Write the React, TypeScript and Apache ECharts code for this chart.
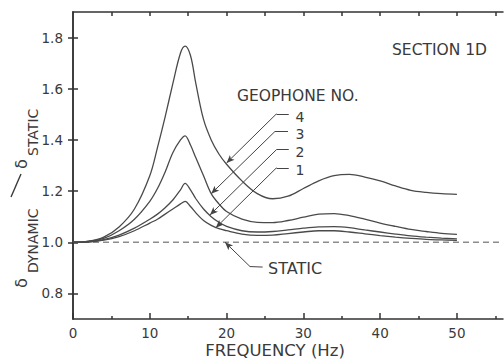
import React, { useEffect, useRef } from "react";
import * as echarts from "echarts";

// Frequency (Hz) sample points
const freq = [0, 2, 4, 6, 8, 10, 11, 12, 13, 14, 14.6, 15.3, 16, 17, 18, 19, 20, 22, 24, 26, 28, 30, 32, 34, 36, 38, 40, 42, 44, 46, 48, 50];

// delta_dynamic / delta_static for each geophone
const geo4 = [1.0, 1.004, 1.02, 1.06, 1.13, 1.26, 1.37, 1.49, 1.62, 1.74, 1.767, 1.73, 1.62, 1.48, 1.40, 1.345, 1.305, 1.24, 1.19, 1.17, 1.18, 1.21, 1.24, 1.26, 1.265, 1.255, 1.24, 1.22, 1.203, 1.195, 1.19, 1.187];
const geo3 = [1.0, 1.003, 1.015, 1.045, 1.09, 1.16, 1.21, 1.275, 1.35, 1.40, 1.416, 1.38, 1.33, 1.26, 1.19, 1.15, 1.12, 1.09, 1.078, 1.077, 1.085, 1.098, 1.11, 1.112, 1.104, 1.09, 1.075, 1.062, 1.05, 1.042, 1.035, 1.031];
const geo2 = [1.0, 1.002, 1.01, 1.028, 1.055, 1.09, 1.11, 1.135, 1.165, 1.205, 1.23, 1.205, 1.17, 1.13, 1.10, 1.078, 1.062, 1.045, 1.04, 1.042, 1.048, 1.055, 1.06, 1.061, 1.057, 1.048, 1.04, 1.032, 1.025, 1.02, 1.016, 1.013];
const geo1 = [1.0, 1.001, 1.008, 1.022, 1.045, 1.075, 1.09, 1.11, 1.13, 1.15, 1.16, 1.14, 1.115, 1.085, 1.066, 1.053, 1.045, 1.032, 1.027, 1.028, 1.034, 1.04, 1.045, 1.045, 1.04, 1.033, 1.026, 1.02, 1.015, 1.011, 1.009, 1.007];

const staticLevel = 1.0;
const xMajorTicks = [0, 10, 20, 30, 40, 50];
const xMinorTicks = [5, 15, 25, 35, 45, 55];
const xTopTicks = [5, 10, 15, 20, 25, 30, 35, 40, 45, 50, 55];
const yTicks = [0.8, 1.0, 1.2, 1.4, 1.6, 1.8];

// Leader lines (data coordinates): [tip, corner, end]
const leader4 = [[20.0, 1.31], [26.5, 1.502], [28.1, 1.502]];
const leader3 = [[18.0, 1.19], [26.3, 1.433], [28.0, 1.433]];
const leader2 = [[17.84, 1.107], [26.5, 1.362], [28.1, 1.362]];
const leader1 = [[18.6, 1.057], [26.5, 1.291], [28.1, 1.291]];
const leaderStatic = [[19.8, 1.0], [23.05, 0.905], [24.7, 0.903]];

const FONT = '"DejaVu Sans", "Liberation Sans", sans-serif';
const INK = "#3a3a3a";
const CURVE = "#4a4a4a";

function leaderLines(l: number[][]) {
  return [
    [
      { coord: l[1], symbol: "none" },
      { coord: l[0], symbol: "arrow", symbolSize: [5, 8] },
    ],
    [
      { coord: l[1], symbol: "none" },
      { coord: l[2], symbol: "none" },
    ],
  ];
}

export default function App() {
  const ref = useRef<HTMLDivElement>(null);
  useEffect(() => {
    if (!ref.current) return;
    const chart = echarts.init(ref.current, undefined, { renderer: "svg" });
    const curve = (vals: number[], name: string) => ({
      type: "line",
      name,
      data: freq.map((f, i) => [f, vals[i]]),
      smooth: 0.35,
      showSymbol: false,
      symbol: "none",
      silent: true,
      lineStyle: { color: CURVE, width: 1.3 },
      z: 3,
    });
    const axisLineStyle = { color: "#333", width: 1.5 };
    const txt = (text: string, x: number, y: number, size: number, align = "left") => ({
      type: "text", x, y,
      style: { text, fontSize: size, fontFamily: FONT, fill: INK, align, verticalAlign: "middle" },
    });
    chart.setOption({
      animation: false,
      backgroundColor: "#fff",
      grid: { left: 73, right: 1, top: 12, bottom: 45, containLabel: false },
      xAxis: [
        {
          type: "value", min: 0, max: 56, position: "bottom",
          axisLine: { show: true, lineStyle: axisLineStyle },
          axisTick: { show: true, inside: true, length: 6, customValues: xMajorTicks, lineStyle: { color: "#333", width: 1.5 } },
          axisLabel: { customValues: xMajorTicks, fontSize: 13.5, fontFamily: FONT, color: INK, margin: 7 },
          splitLine: { show: false },
        },
        {
          type: "value", min: 0, max: 56, position: "bottom",
          axisLine: { show: false },
          axisTick: { show: true, inside: true, length: 3, customValues: xMinorTicks, lineStyle: { color: "#333", width: 1.5 } },
          axisLabel: { show: false },
          splitLine: { show: false },
        },
        {
          type: "value", min: 0, max: 56, position: "top",
          axisLine: { show: true, lineStyle: axisLineStyle },
          axisTick: { show: true, inside: true, length: 4, customValues: xTopTicks, lineStyle: { color: "#333", width: 1.5 } },
          axisLabel: { show: false },
          splitLine: { show: false },
        },
      ],
      yAxis: [
        {
          type: "value", min: 0.7, max: 1.9, position: "left",
          axisLine: { show: true, lineStyle: axisLineStyle },
          axisTick: { show: true, inside: true, length: 5, customValues: yTicks, lineStyle: { color: "#333", width: 1.5 } },
          axisLabel: { customValues: yTicks, fontSize: 13.5, fontFamily: FONT, color: INK, margin: 10, formatter: (v: number) => v.toFixed(1) },
          splitLine: { show: false },
        },
        {
          type: "value", min: 0.7, max: 1.9, position: "right",
          axisLine: { show: true, lineStyle: axisLineStyle },
          axisTick: { show: true, inside: true, length: 5, customValues: yTicks, lineStyle: { color: "#333", width: 1.5 } },
          axisLabel: { show: false },
          splitLine: { show: false },
        },
      ],
      series: [
        curve(geo4, "4"),
        curve(geo3, "3"),
        curve(geo2, "2"),
        curve(geo1, "1"),
        {
          type: "line",
          name: "static",
          data: [[0, staticLevel], [56, staticLevel]],
          showSymbol: false,
          symbol: "none",
          silent: true,
          lineStyle: { color: "#8c8c8c", width: 1.6, type: [6, 4] },
          z: 2,
          markLine: {
            silent: true,
            symbol: ["none", "none"],
            label: { show: false },
            lineStyle: { color: "#444", width: 1, type: "solid" },
            emphasis: { disabled: true },
            data: [
              ...leaderLines(leader4),
              ...leaderLines(leader3),
              ...leaderLines(leader2),
              ...leaderLines(leader1),
              ...leaderLines(leaderStatic),
            ],
          },
        },
      ],
      graphic: [
        txt("SECTION 1D", 392, 50, 15.5),
        txt("GEOPHONE NO.", 237, 96, 15.5),
        txt("4", 300, 117, 14, "center"),
        txt("3", 300, 134, 14, "center"),
        txt("2", 300, 152, 14, "center"),
        txt("1", 300, 170, 14, "center"),
        txt("STATIC", 268, 268, 16),
        txt("FREQUENCY (Hz)", 275, 350, 16.5, "center"),
        { type: "line", shape: { x1: 11, y1: 197, x2: 21, y2: 174 }, style: { stroke: INK, lineWidth: 1.4 } },
        {
          type: "group",
          x: 0,
          y: 288,
          rotation: Math.PI / 2,
          children: [
            { type: "text", x: 0, y: 21, style: { text: "δ", fontSize: 16, fontFamily: FONT, fill: INK, align: "left", verticalAlign: "middle" } },
            { type: "text", x: 15, y: 33, style: { text: "DYNAMIC", fontSize: 14, fontFamily: FONT, fill: INK, align: "left", verticalAlign: "middle" } },
            { type: "text", x: 119, y: 21, style: { text: "δ", fontSize: 16, fontFamily: FONT, fill: INK, align: "left", verticalAlign: "middle" } },
            { type: "text", x: 132, y: 33, style: { text: "STATIC", fontSize: 14, fontFamily: FONT, fill: INK, align: "left", verticalAlign: "middle" } },
          ],
        },
      ],
    });
    return () => chart.dispose();
  }, []);
  return <div ref={ref} style={{ position: "fixed", left: 0, top: 0, width: 504, height: 364, background: "#fff" }} />;
}
